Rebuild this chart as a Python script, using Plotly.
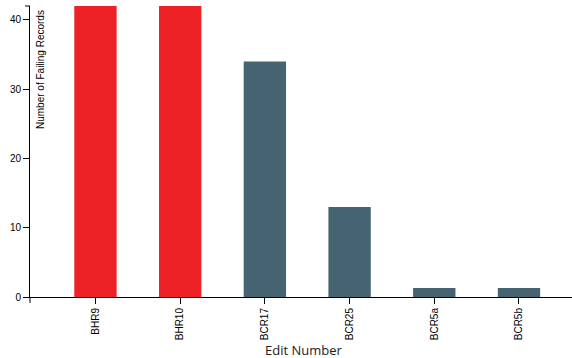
import plotly.graph_objects as go

categories = ["BHR9", "BHR10", "BCR17", "BCR25", "BCR5a", "BCR5b"]
failing_records = [42, 42, 34, 13, 1.3, 1.3]
highlight = [True, True, False, False, False, False]
y_ticks = [0, 10, 20, 30, 40]

RED = "#ED2227"
SLATE = "#466372"
colors = [RED if h else SLATE for h in highlight]

W, H = 572, 358
ML, MR, MT, MB = 30, 0, 6, 61
PW = W - ML - MR
PH = H - MT - MB

xpos = list(range(len(categories)))

fig = go.Figure(go.Bar(
    x=xpos, y=failing_records, width=0.5,
    marker=dict(color=colors, line=dict(width=0)),
))

font_axis = dict(family="Liberation Sans, Arial, sans-serif", size=10, color="#000")

fig.update_layout(
    width=W, height=H,
    margin=dict(l=ML, r=MR, t=MT, b=MB, pad=0),
    paper_bgcolor="white", plot_bgcolor="white",
    showlegend=False,
    xaxis=dict(
        range=[-0.773, -0.773 + PW / 84.7],
        tickmode="array", tickvals=xpos, ticktext=categories,
        tickangle=-90, ticks="outside", ticklen=6, tickcolor="#000", tickwidth=1,
        showline=True, linecolor="#000", linewidth=1,
        showgrid=False, zeroline=False, tickfont=font_axis,
    ),
    yaxis=dict(
        range=[0, 42],
        tickmode="array", tickvals=y_ticks,
        ticks="outside", ticklen=6, tickcolor="#000", tickwidth=1,
        showline=True, linecolor="#000", linewidth=1,
        showgrid=False, zeroline=False, tickfont=font_axis,
    ),
    shapes=[
        dict(type="line", xref="paper", yref="paper", x0=0, x1=0, y0=0, y1=-6 / PH,
             line=dict(color="#000", width=1)),
        dict(type="line", xref="paper", yref="paper", x0=-5 / PW, x1=0, y0=1, y1=1,
             line=dict(color="#000", width=1)),
    ],
    annotations=[
        dict(text="Number of Failing Records", textangle=-90, showarrow=False,
             xref="paper", yref="paper", x=(40.5 - ML) / PW, y=(PH + MT - 8) / PH,
             xanchor="center", yanchor="top",
             font=dict(family="Liberation Sans, Arial, sans-serif", size=10, color="#000")),
        dict(text="Edit Number", showarrow=False,
             xref="paper", yref="paper", x=(303.5 - ML) / PW, y=(PH + MT - 350) / PH,
             xanchor="center", yanchor="middle",
             font=dict(family="Open Sans, sans-serif", size=13, color="#222")),
    ],
)

fig.write_html(
    "out.html",
    config={"displayModeBar": False},
    post_script="document.body.style.margin='0';document.body.style.overflow='hidden';",
)
